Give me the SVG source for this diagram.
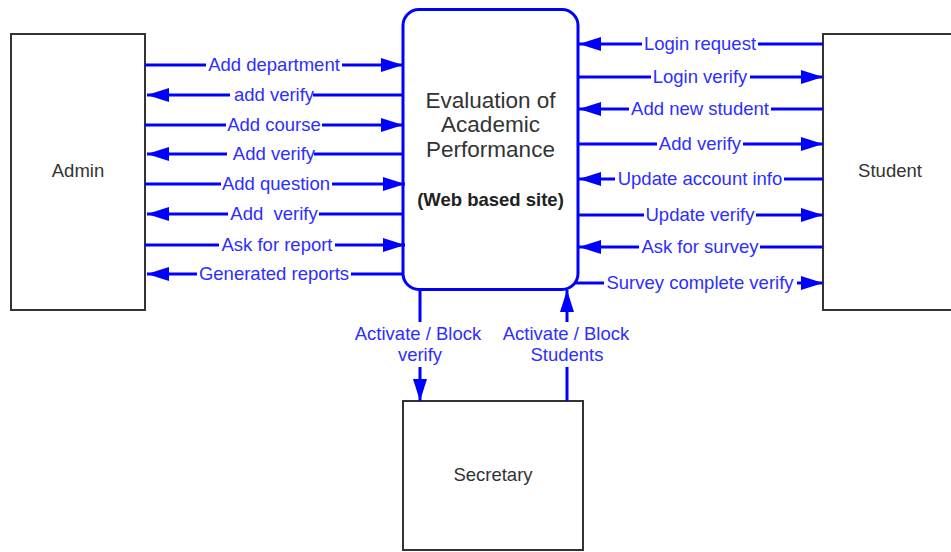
<svg xmlns="http://www.w3.org/2000/svg" width="951" height="552" viewBox="0 0 951 552">
  <style>
    .entity { fill: #ffffff; stroke: #333333; stroke-width: 2; }
    .process { fill: #ffffff; stroke: #0000ff; stroke-width: 3; }
    .node-label { font-family: "Liberation Sans", Arial, sans-serif; font-size: 18.5px; fill: #333333; text-anchor: middle; }
    .title { font-family: "Liberation Sans", Arial, sans-serif; font-size: 22.5px; fill: #333333; text-anchor: middle; }
    .subtitle { font-family: "Liberation Sans", Arial, sans-serif; font-size: 18.5px; font-weight: bold; fill: #222222; text-anchor: middle; }
    .flow { fill: none; stroke: #0000ff; stroke-width: 3; marker-end: url(#arrow); }
    .flow-label { font-family: "Liberation Sans", Arial, sans-serif; font-size: 18.5px; fill: #2e2eff; text-anchor: middle; }
    .gap { fill: #ffffff; }
  </style>
  <defs>
    <marker id="arrow" markerUnits="userSpaceOnUse" markerWidth="24" markerHeight="16" refX="22" refY="7" orient="auto">
      <path d="M0,0 L22,7 L0,14 Z" fill="#0000ff"/>
    </marker>
  </defs>

  <rect width="951" height="552" fill="#ffffff"/>

  <!-- external entities and the central process -->
  <g id="admin">
    <rect class="entity" x="11" y="34" width="134" height="276"/>
    <text class="node-label" x="78" y="177">Admin</text>
  </g>
  <g id="student">
    <rect class="entity" x="823" y="34" width="140" height="276"/>
    <text class="node-label" x="890" y="177">Student</text>
  </g>
  <g id="secretary">
    <rect class="entity" x="403" y="401" width="180" height="149"/>
    <text class="node-label" x="493" y="481">Secretary</text>
  </g>
  <g id="system">
    <rect class="process" x="403" y="9.5" width="175" height="280" rx="16" ry="16"/>
    <text class="title" x="490.5" y="108">Evaluation of</text>
    <text class="title" x="490.5" y="132">Academic</text>
    <text class="title" x="490.5" y="157">Performance</text>
    <text class="subtitle" x="490.5" y="206">(Web based site)</text>
  </g>

  <!-- data flows -->
  <g id="connectors">
    <!-- Admin <-> system -->
    <path class="flow" d="M145,65 H403"/>
    <path class="flow" d="M403,95 H147"/>
    <path class="flow" d="M145,125 H403"/>
    <path class="flow" d="M403,154 H147"/>
    <path class="flow" d="M145,184 H405"/>
    <path class="flow" d="M403,214 H147"/>
    <path class="flow" d="M145,245 H405"/>
    <path class="flow" d="M403,274 H147"/>

    <rect class="gap" x="206" y="60" width="136" height="10"/>
    <rect class="gap" x="230" y="90" width="83" height="10"/>
    <rect class="gap" x="226" y="120" width="96" height="10"/>
    <rect class="gap" x="227" y="149" width="87" height="10"/>
    <rect class="gap" x="221" y="179" width="111" height="10"/>
    <rect class="gap" x="228" y="209" width="91" height="10"/>
    <rect class="gap" x="219" y="240" width="116" height="10"/>
    <rect class="gap" x="197" y="269" width="154" height="10"/>

    <text class="flow-label" x="274" y="71">Add department</text>
    <text class="flow-label" x="274" y="101">add verify</text>
    <text class="flow-label" x="274" y="131">Add course</text>
    <text class="flow-label" x="274" y="160">Add verify</text>
    <text class="flow-label" x="276" y="190">Add question</text>
    <text class="flow-label" x="274" y="220" xml:space="preserve">Add  verify</text>
    <text class="flow-label" x="277" y="251">Ask for report</text>
    <text class="flow-label" x="274" y="280">Generated reports</text>

    <!-- Student <-> system -->
    <path class="flow" d="M823,44 H579"/>
    <path class="flow" d="M578,77 H823"/>
    <path class="flow" d="M823,109 H579"/>
    <path class="flow" d="M578,144 H823"/>
    <path class="flow" d="M823,179 H579"/>
    <path class="flow" d="M578,215 H823"/>
    <path class="flow" d="M823,247 H579"/>
    <path class="flow" d="M574,283 H823"/>

    <rect class="gap" x="642" y="39" width="116" height="10"/>
    <rect class="gap" x="651" y="72" width="99" height="10"/>
    <rect class="gap" x="629" y="104" width="142" height="10"/>
    <rect class="gap" x="657" y="139" width="86" height="10"/>
    <rect class="gap" x="615" y="174" width="169" height="10"/>
    <rect class="gap" x="644" y="210" width="112" height="10"/>
    <rect class="gap" x="639" y="242" width="121" height="10"/>
    <rect class="gap" x="604" y="278" width="193" height="10"/>

    <text class="flow-label" x="700" y="50">Login request</text>
    <text class="flow-label" x="700" y="83">Login verify</text>
    <text class="flow-label" x="700" y="115">Add new student</text>
    <text class="flow-label" x="700" y="150">Add verify</text>
    <text class="flow-label" x="700" y="185">Update account info</text>
    <text class="flow-label" x="700" y="221">Update verify</text>
    <text class="flow-label" x="700" y="253">Ask for survey</text>
    <text class="flow-label" x="700" y="289">Survey complete verify</text>

    <!-- Secretary <-> system -->
    <path class="flow" d="M420,290 V322 M420,367 V401"/>
    <path class="flow" d="M567,401 V367 M567,322 V290"/>
    <text class="flow-label" x="418" y="340">Activate / Block</text>
    <text class="flow-label" x="420" y="361">verify</text>
    <text class="flow-label" x="566" y="340">Activate / Block</text>
    <text class="flow-label" x="567" y="361">Students</text>
  </g>
</svg>
